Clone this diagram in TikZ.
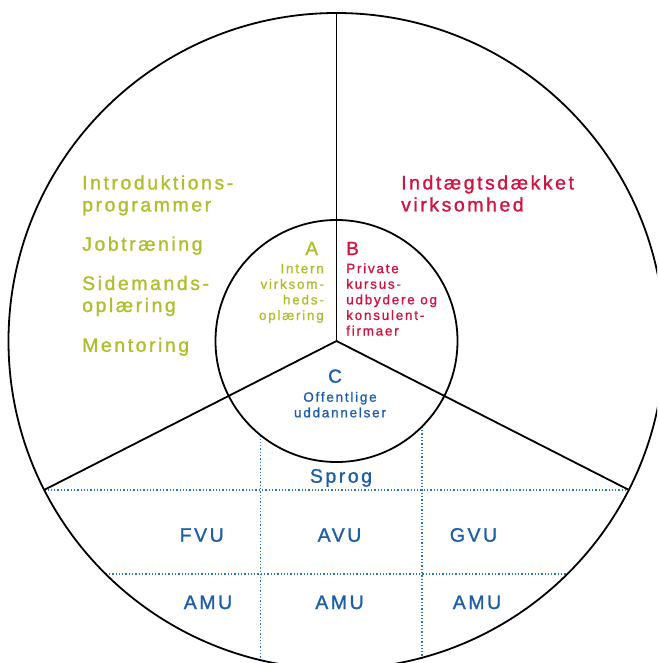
\documentclass[tikz,border=0pt]{standalone}
\usepackage{fontspec}
\usepackage{tikz}
\newfontfamily\tracked{Liberation Sans}[LetterSpace=13, FakeBold=1.2]
\definecolor{greenA}{HTML}{AEBE2C}
\definecolor{redB}{HTML}{CF1441}
\definecolor{blueC}{HTML}{1D5EA6}
\definecolor{gridblue}{HTML}{2E72BC}
\tikzset{
  ring/.style={line width=1.8pt, black},
  grid/.style={gridblue, line width=1.5pt, dash pattern=on 1.3pt off 2pt},
  bigtxt/.style={font=\tracked\fontsize{19.5}{22}\selectfont, inner sep=0pt},
  smalltxt/.style={font=\tracked\fontsize{13.5}{15.6}\selectfont, inner sep=0pt},
  letter/.style={font=\tracked\fontsize{19}{20}\selectfont, inner sep=0pt}
}

\begin{document}
\begin{tikzpicture}[x=1pt,y=-1pt]
    \useasboundingbox (0,0) rectangle (657,663);
    \clip (0,0) rectangle (657,663);
    \coordinate (O) at (336.5,341);
    \coordinate (top) at (336.5,13);
    \coordinate (L) at (44.2,489.9);
    \coordinate (R) at (628.8,489.9);

    % dotted grid in the lower sector
    \draw[grid] (L) -- (R);
    \draw[grid] (105.6,574) -- (567.4,574);
    \draw[grid] (260.6,435.2) -- (260.6,661);
    \draw[grid] (421.9,426.7) -- (421.9,658);

    % circles and spokes
    \draw[ring] (O) circle[radius=328];
    \draw[ring] (O) circle[radius=121];
    \draw[ring] (top) -- (O);
    \draw[ring] (O) -- (L);
    \draw[ring] (O) -- (R);

    % A: green (base = last line)
    \node[bigtxt, greenA, anchor=base west, align=left] (intro) at (82,211.4) {Introduktions-\\programmer};
    \node[bigtxt, greenA, anchor=base west] (job) at (82,250.7) {Jobtræning};
    \node[bigtxt, greenA, anchor=base west, align=left] (side) at (82,312) {Sidemands-\\oplæring};
    \node[bigtxt, greenA, anchor=base west] (ment) at (82,351.8) {Mentoring};
    \node[letter, greenA, anchor=base east] (A) at (318.3,255) {A};
    \node[smalltxt, greenA, anchor=base east, align=right] (intern) at (324,320) {Intern\\virksom-\\heds-\\oplæring};

    % B: red
    \node[bigtxt, redB, anchor=base west, align=left] (indt) at (401,211.4) {Indtægtsdækket\\virksomhed};
    \node[letter, redB, anchor=base west] (B) at (346,255) {B};
    \node[smalltxt, redB, anchor=base west, align=left] (priv) at (346,335.5) {Private\\kursus-\\udbydere og\\konsulent-\\firmaer};

    % C: blue
    \node[letter, blueC, anchor=base] (C) at (335,382.7) {C};
    \node[smalltxt, blueC, anchor=base, align=center] (off) at (340,417.3) {Offentlige\\uddannelser};
    \node[bigtxt, blueC, anchor=base] (sprog) at (341,482.7) {Sprog};
    \node[bigtxt, blueC, anchor=base] (fvu) at (201.7,541.7) {FVU};
    \node[bigtxt, blueC, anchor=base] (avu) at (339.5,541.7) {AVU};
    \node[bigtxt, blueC, anchor=base] (gvu) at (473.5,541.7) {GVU};
    \node[bigtxt, blueC, anchor=base] (amu1) at (208,609) {AMU};
    \node[bigtxt, blueC, anchor=base] (amu2) at (339.5,609) {AMU};
    \node[bigtxt, blueC, anchor=base] (amu3) at (477,609) {AMU};
\end{tikzpicture}
\end{document}
